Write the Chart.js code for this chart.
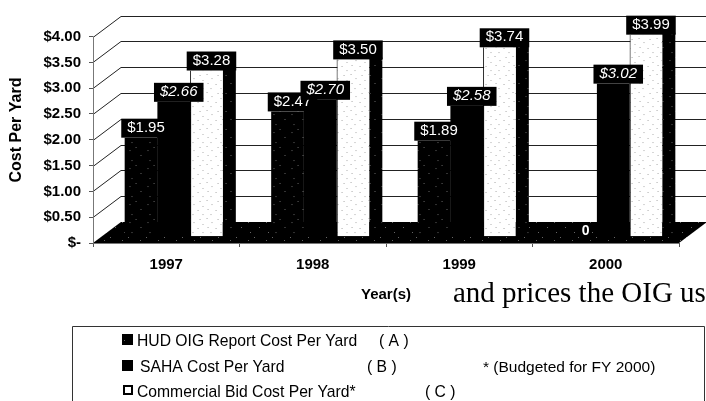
<!DOCTYPE html>
<html>
<head>
<meta charset="utf-8">
<style>
  html, body { margin: 0; padding: 0; background: #fff; overflow: hidden; }
  canvas { display: block; }
</style>
<script src="https://cdn.jsdelivr.net/npm/chart.js@4"></script>
</head>
<body>
<canvas id="myChart" width="706" height="401"></canvas>
<script>
// data
const years = ['1997', '1998', '1999', '2000'];
const hudValues = [1.95, 2.47, 1.89, 0];
const sahaValues = [2.66, 2.70, 2.58, 3.02];
const bidValues = [3.28, 3.50, 3.74, 3.99];
const hudName = 'HUD OIG Report Cost Per Yard';
const sahaName = 'SAHA Cost Per Yard';
const bidName = 'Commercial Bid Cost Per Yard*';
const budgetNote = '* (Budgeted for FY 2000)';
const strayText = 'and prices the OIG us';

// fake 3d depth of the original, in pixels
const depthX = 28;
const depthY = 21;
const barShift = 7.5;
const sideWidth = 13;

// speckled fills like the scan
function speckle(bg, dot, dots) {
    let c = document.createElement('canvas');
    c.width = 18;
    c.height = 18;
    let g = c.getContext('2d');
    g.fillStyle = bg;
    g.fillRect(0, 0, 18, 18);
    g.fillStyle = dot;
    dots.forEach(d => g.fillRect(d[0], d[1], 1, 1));
    return g.createPattern(c, 'repeat');
}
const darkDots = [[2,3],[14,6],[7,11],[16,16]];
const lightDots = [[1,2],[12,3],[6,6],[15,8],[2,11],[10,12],[5,16],[15,16]];
const darkFill = speckle('#000', '#666', darkDots);
const lightFill = speckle('#fff', '#aaa', lightDots);

const cube = {
    id: 'cube',
    beforeDatasetsDraw(chart) {
        let ctx = chart.ctx;
        let area = chart.chartArea;
        let y = chart.scales.y;
        let base = y.getPixelForValue(0);
        ctx.save();
        // back wall and left wall lines
        ctx.strokeStyle = '#222';
        ctx.lineWidth = 1;
        for (let v = 0.5; v <= 4; v += 0.5) {
            let p = Math.round(y.getPixelForValue(v)) + 0.5;
            ctx.beginPath();
            ctx.moveTo(area.left, p);
            ctx.lineTo(area.left + depthX, p - depthY);
            ctx.lineTo(area.right + depthX, p - depthY);
            ctx.stroke();
        }
        // floor
        ctx.fillStyle = darkFill;
        ctx.beginPath();
        ctx.moveTo(area.left, base);
        ctx.lineTo(area.left + depthX, base - depthY);
        ctx.lineTo(area.right + depthX, base - depthY);
        ctx.lineTo(area.right, base);
        ctx.closePath();
        ctx.fill();
        // axis lines
        ctx.strokeStyle = '#777';
        ctx.beginPath();
        ctx.moveTo(area.left + 0.5, y.getPixelForValue(4));
        ctx.lineTo(area.left + 0.5, base + 0.5);
        ctx.lineTo(area.right, base + 0.5);
        ctx.stroke();
        ctx.restore();

        // everything from here to afterDatasetsDraw sits mid depth
        ctx.save();
        ctx.translate(barShift, 0);
        ctx.fillStyle = darkFill;
        chart.data.datasets.forEach((ds, i) => {
            chart.getDatasetMeta(i).data.forEach((bar, j) => {
                if (ds.data[j] > 0) {
                    ctx.fillRect(bar.x + bar.width / 2, bar.y - 2, sideWidth, bar.base - bar.y + 2);
                }
            });
        });
    },
    afterDatasetsDraw(chart) {
        let ctx = chart.ctx;
        ctx.textAlign = 'center';
        ctx.textBaseline = 'middle';
        chart.data.datasets.forEach((ds, i) => {
            ctx.font = (i === 1 ? 'italic ' : '') + '15px "Liberation Sans"';
            chart.getDatasetMeta(i).data.forEach((bar, j) => {
                let val = ds.data[j];
                let cx = bar.x + 5;
                if (val === 0) {
                    ctx.fillStyle = '#fff';
                    ctx.font = 'bold 14px "Liberation Sans"';
                    ctx.fillText('0', cx, bar.y - 5);
                    return;
                }
                let txt = '$' + val.toFixed(2);
                let w = ctx.measureText(txt).width + 12;
                ctx.fillStyle = '#000';
                ctx.fillRect(cx - w / 2, bar.y - 19, w, 19);
                ctx.fillStyle = '#fff';
                ctx.fillText(txt, cx, bar.y - 10);
            });
        });
        ctx.restore();
    },
    afterDraw(chart) {
        let ctx = chart.ctx;
        ctx.save();
        // legend box, open at the bottom of the crop
        ctx.strokeStyle = '#333';
        ctx.lineWidth = 1;
        ctx.beginPath();
        ctx.moveTo(72.5, 401);
        ctx.lineTo(72.5, 326.5);
        ctx.lineTo(704.5, 326.5);
        ctx.lineTo(704.5, 401);
        ctx.stroke();

        ctx.fillStyle = darkFill;
        ctx.fillRect(122, 334, 11, 11);
        ctx.fillStyle = '#000';
        ctx.fillRect(122, 360, 11, 11);
        ctx.lineWidth = 2;
        ctx.strokeStyle = '#000';
        ctx.strokeRect(124, 386, 8, 8);

        ctx.fillStyle = '#000';
        ctx.textAlign = 'left';
        ctx.textBaseline = 'middle';
        ctx.font = '15.7px "Liberation Sans"';
        ctx.fillText(hudName, 137, 342);
        ctx.fillText('( A )', 379, 342);
        ctx.fillText(sahaName, 140, 368);
        ctx.fillText('( B )', 367, 368);
        ctx.fillText(bidName, 137, 393);
        ctx.fillText('( C )', 425, 393);
        ctx.font = '15.5px "Liberation Sans"';
        ctx.fillText(budgetNote, 483, 368);

        ctx.font = '29px "Liberation Serif"';
        ctx.fillText(strayText, 453, 294);
        ctx.restore();
    }
};

new Chart(document.getElementById('myChart'), {
    type: 'bar',
    data: {
        labels: years,
        datasets: [
            { label: hudName, data: hudValues, backgroundColor: darkFill, yAxisID: 'bars' },
            { label: sahaName, data: sahaValues, backgroundColor: '#000', yAxisID: 'bars' },
            { label: bidName, data: bidValues, backgroundColor: lightFill, borderColor: '#000', borderWidth: { left: 1 }, yAxisID: 'bars' }
        ]
    },
    plugins: [cube],
    options: {
        responsive: false,
        animation: false,
        devicePixelRatio: 1,
        categoryPercentage: 0.67,
        barPercentage: 1,
        layout: { padding: { top: 12, right: 27, left: 0, bottom: 0 } },
        plugins: { legend: { display: false }, tooltip: { enabled: false } },
        scales: {
            x: {
                afterFit(scale) { scale.height = 158; },
                grid: { drawOnChartArea: false, tickLength: 4, color: '#555' },
                border: { display: false },
                ticks: { color: '#000', padding: 9, font: { family: 'Liberation Sans', size: 15, weight: 'bold' } },
                title: {
                    display: true,
                    text: 'Year(s)',
                    color: '#000',
                    font: { family: 'Liberation Sans', size: 15, weight: 'bold' },
                    padding: { top: 0, bottom: 97 }
                }
            },
            y: {
                min: 0,
                max: 4.379,
                afterFit(scale) { scale.width = 93; },
                grid: { drawOnChartArea: false, tickLength: 4, color: '#555' },
                border: { display: false },
                ticks: {
                    stepSize: 0.5,
                    includeBounds: false,
                    color: '#000',
                    padding: 8,
                    font: { family: 'Liberation Sans', size: 15, weight: 'bold' },
                    callback: v => v === 0 ? '$-' : '$' + v.toFixed(2)
                },
                title: {
                    display: true,
                    text: 'Cost Per Yard',
                    color: '#000',
                    font: { family: 'Liberation Sans', size: 16, weight: 'bold' },
                    padding: { top: 7, bottom: 0 }
                }
            },
            // bars stand further back, so their axis is a bit flatter
            bars: { display: false, min: -0.136, max: 4.34 }
        }
    }
});
</script>
</body>
</html>
